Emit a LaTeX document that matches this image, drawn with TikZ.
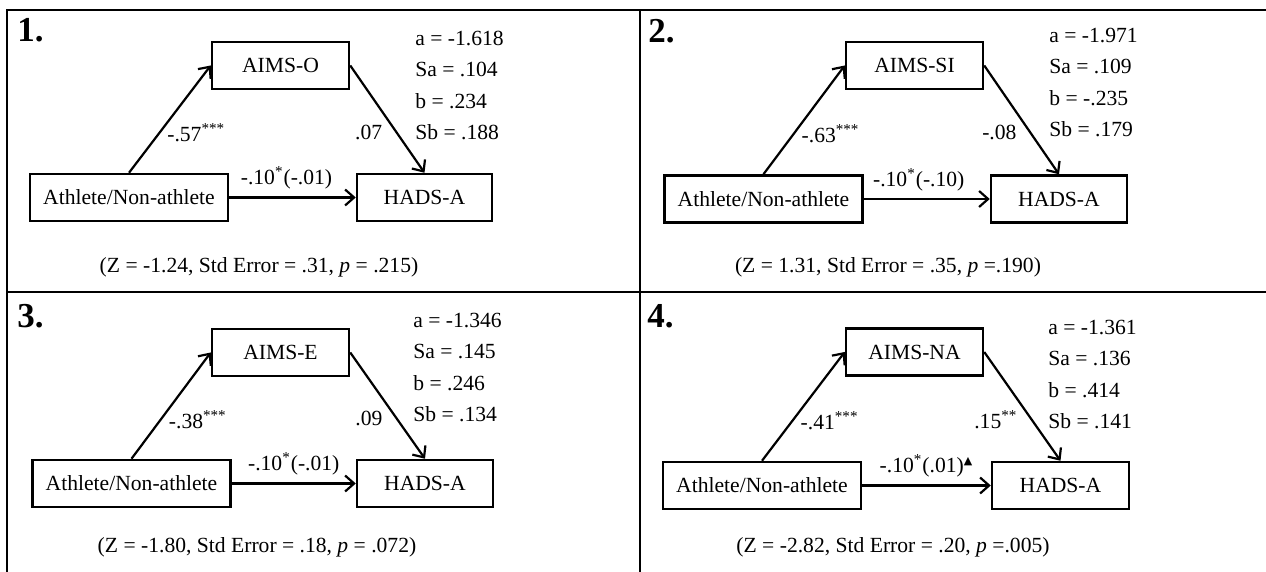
\documentclass[tikz,border=0pt]{standalone}
\usepackage{fontspec}
\setmainfont{Liberation Serif}
\newfontfamily\symfont{DejaVu Sans}
\usetikzlibrary{arrows.meta}

\tikzset{
    box/.style={draw, line width=1.25pt, inner sep=0pt, minimum height=23.5pt},
    link/.style={-{Straight Barb[length=4.5pt,width=8pt]}, line width=1.1pt},
    coef/.style={inner sep=3.5pt},
    stats/.style={anchor=north west, align=left, inner sep=0pt, font=\fontsize{10.8}{15.6}\selectfont},
    panelno/.style={anchor=base west, inner sep=0pt, font=\fontsize{17.5}{20}\selectfont\bfseries},
    grid line/.style={line width=1.1pt}
}

\begin{document}
\begin{tikzpicture}[x=0.5pt, y=-0.5pt, font=\fontsize{10.8}{13}\selectfont]
    \useasboundingbox (0,0) rectangle (1266,572);

    \draw[grid line] (7,572) -- (7,10) -- (1266,10);
    \draw[grid line] (640,10) -- (640,572);
    \draw[grid line] (7,292) -- (1266,292);

    \begin{scope}
        \node[panelno] (n1) at (17,42) {1.};
        \node[box, minimum width=99pt] (x1) at (129,197.5) {Athlete/Non-athlete};
        \node[box, minimum width=68.5pt] (m1) at (280.5,65.5) {AIMS-O};
        \node[box, minimum width=67.5pt] (y1) at (424.5,197.5) {HADS-A};
        \node[stats] (s1) at (415,31) {a = -1.618\\Sa = .104\\b = .234\\Sb = .188};
        \node (z1) at (259,267) {(Z = -1.24, Std Error = .31, \textit{p} = .215)};

        \draw[link] (x1.north) -- node[coef, pos=.37, anchor=west] (a1) {-.57\textsuperscript{***}} (m1.west);
        \draw[link] (m1.east) -- node[coef, pos=.62, anchor=east, xshift=-3pt] (b1) {.07} (y1.north);
        \draw[link] (x1) -- node[coef, above=0pt, xshift=-3pt] (c1) {-.10\textsuperscript{*}(-.01)} (y1);
    \end{scope}

    \begin{scope}[xshift=317pt]
        \node[panelno] (n2) at (14,43) {2.};
        \node[box, minimum width=99pt] (x2) at (129.5,199) {Athlete/Non-athlete};
        \node[box, minimum width=68.5pt] (m2) at (280.5,65.5) {AIMS-SI};
        \node[box, minimum width=68pt] (y2) at (425,199) {HADS-A};
        \node[stats] (s2) at (415,28) {a = -1.971\\Sa = .109\\b = -.235\\Sb = .179};
        \node (z2) at (254,267) {(Z = 1.31, Std Error = .35, \textit{p} =.190)};

        \draw[link] (x2.north) -- node[coef, pos=.37, anchor=west] (a2) {-.63\textsuperscript{***}} (m2.west);
        \draw[link] (m2.east) -- node[coef, pos=.62, anchor=east, xshift=-3pt] (b2) {-.08} (y2.north);
        \draw[link] (x2) -- node[coef, above=0pt, xshift=-4pt] (c2) {-.10\textsuperscript{*}(-.10)} (y2);
    \end{scope}

    \begin{scope}[yshift=-141pt]
        \node[panelno] (n3) at (17,46) {3.};
        \node[box, minimum width=99pt] (x3) at (131.5,201.5) {Athlete/Non-athlete};
        \node[box, minimum width=68.5pt] (m3) at (280.5,70.5) {AIMS-E};
        \node[box, minimum width=68pt] (y3) at (425,201.5) {HADS-A};
        \node[stats] (s3) at (413,31) {a = -1.346\\Sa = .145\\b = .246\\Sb = .134};
        \node (z3) at (257,265) {(Z = -1.80, Std Error = .18, \textit{p} = .072)};

        \draw[link] (x3.north) -- node[coef, pos=.37, anchor=west] (a3) {-.38\textsuperscript{***}} (m3.west);
        \draw[link] (m3.east) -- node[coef, pos=.62, anchor=east, xshift=-3pt] (b3) {.09} (y3.north);
        \draw[link] (x3) -- node[coef, above=0pt] (c3) {-.10\textsuperscript{*}(-.01)} (y3);
    \end{scope}

    \begin{scope}[xshift=317pt, yshift=-141pt]
        \node[panelno] (n4) at (13,46) {4.};
        \node[box, minimum width=99pt] (x4) at (128,203.5) {Athlete/Non-athlete};
        \node[box, minimum width=68.5pt] (m4) at (280.5,70) {AIMS-NA};
        \node[box, minimum width=68.5pt] (y4) at (426.5,203.5) {HADS-A};
        \node[stats] (s4) at (414,38) {a = -1.361\\Sa = .136\\b = .414\\Sb = .141};
        \node (z4) at (259,265) {(Z = -2.82, Std Error = .20, \textit{p} =.005)};

        \draw[link] (x4.north) -- node[coef, pos=.37, anchor=west] (a4) {-.41\textsuperscript{***}} (m4.west);
        \draw[link] (m4.east) -- node[coef, pos=.62, anchor=east, xshift=-3pt] (b4) {.15\textsuperscript{**}} (y4.north);
        \draw[link] (x4) -- node[coef, above=0pt] (c4) {-.10\textsuperscript{*}(.01)\textsuperscript{\symfont\fontsize{5.5}{6}\selectfont ▲}} (y4);
    \end{scope}
\end{tikzpicture}
\end{document}
